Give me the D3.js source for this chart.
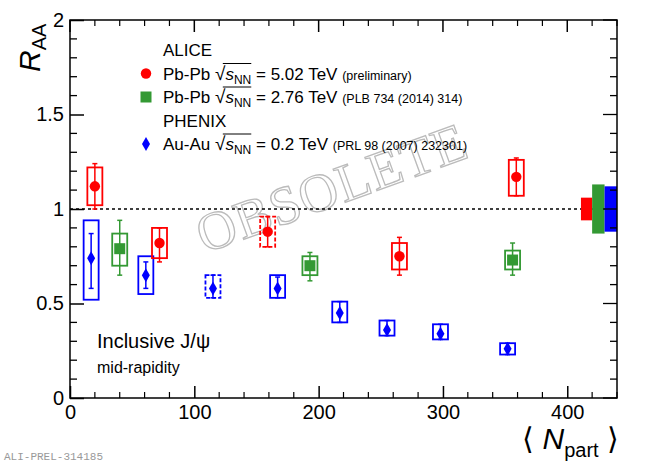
<!DOCTYPE html><html><head><meta charset="utf-8"><script src="https://cdn.jsdelivr.net/npm/d3@7"></script>
<style>body{margin:0;background:#fff}</style></head><body><svg id="c" width="646" height="466" font-family="Liberation Sans, Arial, sans-serif"></svg>
<script>
// [Npart, RAA, statLo, statHi, sysLo, sysHi, dashed]
const alice502 = [[20,1.12,1.00,1.24,1.02,1.22,0],[72,0.82,0.72,0.90,0.74,0.90,0],[159,0.88,0.80,0.96,0.80,0.96,1],[265,0.75,0.65,0.85,0.68,0.82,0],[359,1.17,1.07,1.27,1.07,1.26,0]];
const alice276 = [[40,0.79,0.65,0.94,0.70,0.87,0],[193,0.70,0.62,0.77,0.65,0.75,0],[356,0.73,0.65,0.82,0.68,0.78,0]];
const phenix = [[17,0.74,0.58,0.87,0.52,0.94,0],[61,0.65,0.58,0.72,0.55,0.75,0],[115,0.58,0.53,0.65,0.53,0.65,1],[167,0.58,0.53,0.64,0.53,0.65,0],[217,0.45,0.40,0.51,0.40,0.51,0],[255,0.36,0.33,0.41,0.33,0.41,0],[298,0.34,0.31,0.39,0.31,0.39,0],[352,0.26,0.23,0.29,0.23,0.29,0]];
const globalUnc = [[411,420,0.94,1.06,"#ff0000"],[420,430,0.87,1.13,"#339933"],[430,440,0.88,1.12,"#0000ff"]];
const xTicks=[0,100,200,300,400], yTicks=[0,0.5,1,1.5,2];
const svg=d3.select("#c");
const x=d3.scaleLinear().domain([0,440]).range([70,617]);
const y=d3.scaleLinear().domain([0,2]).range([398,20]);
svg.append("text").attr("transform","translate(338,205) rotate(-20)").attr("text-anchor","middle").attr("font-size",54)
 .attr("font-family","Liberation Serif, serif").attr("fill","none").attr("stroke","#bbbbbb").attr("stroke-width",1.3).attr("letter-spacing",1).text("OBSOLETE");
svg.append("line").attr("x1",x(0)).attr("x2",x(440)).attr("y1",y(1)).attr("y2",y(1)).attr("stroke","#000").attr("stroke-width",1.5).attr("stroke-dasharray","3,3");
globalUnc.forEach(g=>svg.append("rect").attr("x",x(g[0])).attr("width",x(g[1])-x(g[0])).attr("y",y(g[3])).attr("height",y(g[2])-y(g[3])).attr("fill",g[4]));
function series(data,col,shape){
  const g=svg.append("g");
  data.forEach(d=>{
    const cx=x(d[0]),cy=y(d[1]);
    g.append("rect").attr("x",cx-7.5).attr("width",15).attr("y",y(d[5])).attr("height",y(d[4])-y(d[5])).attr("fill","none").attr("stroke",col).attr("stroke-width",1.8).attr("stroke-dasharray",d[6]?"4,2":null);
    g.append("line").attr("x1",cx).attr("x2",cx).attr("y1",y(d[3])).attr("y2",y(d[2])).attr("stroke",col).attr("stroke-width",1.5);
    [d[2],d[3]].forEach(v=>g.append("line").attr("x1",cx-2.5).attr("x2",cx+2.5).attr("y1",y(v)).attr("y2",y(v)).attr("stroke",col).attr("stroke-width",1.5));
    g.append("path").attr("transform",`translate(${cx},${cy})`).attr("d",shape).attr("fill",col);
  });
}
const circ=d3.symbol(d3.symbolCircle,85)(), sq="M-5.5,-5.5H5.5V5.5H-5.5Z", dia="M0,-7L4,0L0,7L-4,0Z";
series(phenix,"#0000ff",dia);
series(alice276,"#339933",sq);
series(alice502,"#ff0000",circ);
svg.append("rect").attr("x",70).attr("y",20).attr("width",547).attr("height",378).attr("fill","none").attr("stroke","#000").attr("stroke-width",1.5);
const xa=svg.append("g").attr("transform","translate(0,398)").call(d3.axisBottom(x).tickValues(xTicks).tickSize(-12).tickPadding(7).tickFormat(d3.format("d")));
const ya=svg.append("g").attr("transform","translate(70,0)").call(d3.axisLeft(y).tickValues(yTicks).tickSize(-14).tickPadding(6).tickFormat(d=>d));
[xa,ya].forEach(a=>{a.select(".domain").remove();a.selectAll("text").attr("font-size",20).attr("font-family","Liberation Sans, Arial, sans-serif");a.selectAll("line").attr("stroke-width",1.5);});
d3.range(0,441,20).forEach(v=>{ if(v%100){svg.append("line").attr("x1",x(v)).attr("x2",x(v)).attr("y1",398).attr("y2",392).attr("stroke","#000").attr("stroke-width",1.2);
 svg.append("line").attr("x1",x(v)).attr("x2",x(v)).attr("y1",20).attr("y2",26).attr("stroke","#000").attr("stroke-width",1.2);}});
xTicks.forEach(v=>svg.append("line").attr("x1",x(v)).attr("x2",x(v)).attr("y1",20).attr("y2",32).attr("stroke","#000").attr("stroke-width",1.5));
d3.range(0,2.01,0.1).forEach(v=>{const r=Math.round(v*10);const L=r%5?7:14;
 svg.append("line").attr("x1",617).attr("x2",617-L).attr("y1",y(v)).attr("y2",y(v)).attr("stroke","#000").attr("stroke-width",1.3);
 if(r%5) svg.append("line").attr("x1",70).attr("x2",77).attr("y1",y(v)).attr("y2",y(v)).attr("stroke","#000").attr("stroke-width",1.3);});
const yt=svg.append("text").attr("transform","translate(40,72) rotate(-90)").attr("font-size",30);
yt.append("tspan").attr("font-style","italic").text("R");yt.append("tspan").attr("font-size",20).attr("dy",6).text("AA");
const xt=svg.append("text").attr("x",619).attr("y",449).attr("text-anchor","end").attr("font-size",30);
xt.append("tspan").text("\u27E8 ");xt.append("tspan").attr("font-style","italic").text("N");
xt.append("tspan").attr("font-size",20).attr("dy",8).text("part");xt.append("tspan").attr("dy",-8).text(" \u27E9");
const lg=[["ALICE",null],["Pb-Pb ","#ff0000","5.02 TeV","(preliminary)",circ],["Pb-Pb ","#339933","2.76 TeV","(PLB 734 (2014) 314)",sq],["PHENIX",null],["Au-Au ","#0000ff","0.2 TeV","(PRL 98 (2007) 232301)",dia]];
lg.forEach((l,i)=>{const yy=56+i*23.5;
 if(!l[1]){svg.append("text").attr("x",163).attr("y",yy).attr("font-size",17).text(l[0]);return;}
 svg.append("path").attr("transform",`translate(146,${yy-6})`).attr("d",l[4]).attr("fill",l[1]);
 const t=svg.append("text").attr("x",163).attr("y",yy).attr("font-size",17);
 t.append("tspan").text(l[0]);t.append("tspan").attr("font-size",19).text("\u221A");t.append("tspan").attr("font-style","italic").text("s");
 t.append("tspan").attr("font-size",12).attr("dy",4).text("NN");t.append("tspan").attr("dy",-4).text(" = "+l[2]+" ");
 t.append("tspan").attr("font-size",12.5).text(l[3]);
 const n=t.node(), si=l[0].length;
 const x0=n.getStartPositionOfChar(si).x+n.getExtentOfChar(si).width*0.75, x1=n.getEndPositionOfChar(si+3).x;
 svg.append("line").attr("x1",x0).attr("x2",x1).attr("y1",yy-16).attr("y2",yy-16).attr("stroke","#000").attr("stroke-width",1);
});
svg.append("text").attr("x",97).attr("y",348).attr("font-size",20).text("Inclusive J/\u03C8");
svg.append("text").attr("x",97).attr("y",373).attr("font-size",16).text("mid-rapidity");
svg.append("text").attr("x",4).attr("y",460).attr("font-size",11).attr("font-family","Liberation Mono, monospace").attr("fill","#999").text("ALI-PREL-314185");
</script></body></html>
